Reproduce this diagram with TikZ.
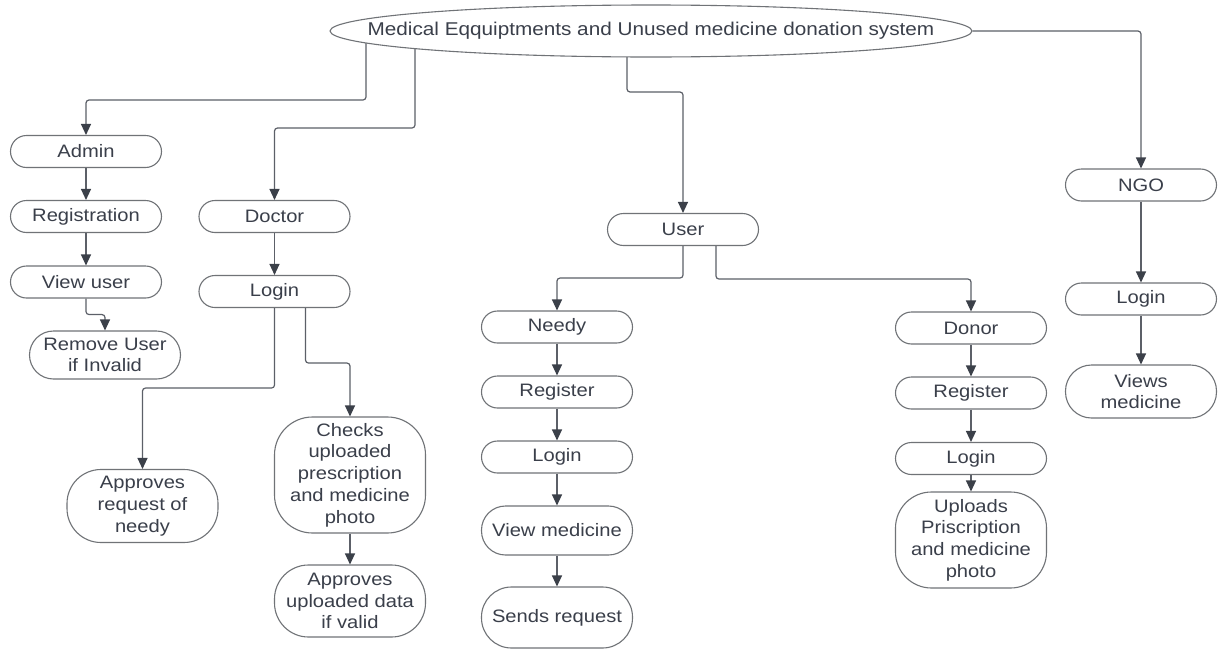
\documentclass[tikz,border=0pt]{standalone}
\usepackage{fontspec}
\setmainfont{Liberation Sans}[FakeStretch=1.12]
\usetikzlibrary{shapes.geometric,arrows.meta,backgrounds}
\definecolor{txtc}{HTML}{3A3F4A}
\definecolor{bordc}{HTML}{707377}
\definecolor{linec}{HTML}{5C6068}
\definecolor{tipc}{HTML}{3B4049}
\newcommand{\nodefont}{\fontsize{18}{21.7}\selectfont}
\begin{document}
\begin{tikzpicture}[x=1pt,y=-1pt,
  box/.style={draw=bordc, line width=1.1pt, fill=white, text=txtc,
    minimum width=151pt, minimum height=32pt, rounded corners=16pt,
    align=center, inner sep=2pt, font=\nodefont},
  conn/.style={draw=linec, line width=1.2pt, rounded corners=3pt,
    -{Triangle[width=10pt,length=11pt,fill=tipc,color=tipc]}}]
\begin{scope}[on background layer]
\fill[white] (0,0) rectangle (1219,651);
\end{scope}
\useasboundingbox (0,0) rectangle (1219,651);

% root
\node[ellipse, draw=bordc, line width=1.1pt, fill=white, text=txtc,
  minimum width=642pt, minimum height=52pt, inner sep=0pt,
  font=\fontsize{18.5}{22}\selectfont] (root) at (651,31)
  {\makebox[0pt]{Medical Eqquiptments and Unused medicine donation system}};

% admin column
\node[box] (admin) at (86,151.5) {Admin};
\node[box] (reg) at (86,216.5) {Registration};
\node[box] (viewu) at (86,282) {View user};
\node[box, minimum height=48pt, rounded corners=24pt] (remove) at (105,355) {Remove User\\if Invalid};

% doctor column
\node[box] (doctor) at (274.5,216.5) {Doctor};
\node[box] (dlogin) at (274.5,291.5) {Login};
\node[box, minimum height=73pt, rounded corners=34pt] (appreq) at (142.5,506) {Approves\\request of\\needy};
\node[box, minimum height=116pt, rounded corners=38pt] (checks) at (350,475) {Checks\\uploaded\\prescription\\and medicine\\photo};
\node[box, minimum height=72pt, rounded corners=34pt] (appdata) at (350,601) {Approves\\uploaded data\\if valid};

% user column
\node[box] (user) at (683,229.5) {User};
\node[box] (needy) at (557,327) {Needy};
\node[box] (nreg) at (557,392) {Register};
\node[box] (nlogin) at (557,457) {Login};
\node[box, minimum height=49pt, rounded corners=24pt] (nview) at (557,530.5) {View medicine};
\node[box, minimum height=61pt, rounded corners=30pt] (nsend) at (557,617.5) {Sends request};

\node[box] (donor) at (971,328) {Donor};
\node[box] (dreg) at (971,393) {Register};
\node[box] (dlog2) at (971,458.5) {Login};
\node[box, minimum height=96pt, rounded corners=36pt] (upl) at (971,540) {Uploads\\Priscription\\and medicine\\photo};

% ngo column
\node[box] (ngo) at (1141,185) {NGO};
\node[box] (glogin) at (1141,299) {Login};
\node[box, minimum height=53pt, rounded corners=26pt] (gview) at (1141,391.5) {Views\\medicine};

\coordinate (r1) at (366,31);
\coordinate (r2) at (415,31);
\coordinate (r3) at (627,31);

\begin{scope}[on background layer]
\draw[conn] (r1) -- ++(0,69) -| (admin.north);
\draw[conn] (r2) -- ++(0,97) -| (doctor.north);
\draw[conn] (r3) -- ++(0,61) -| (user.north);
\end{scope}
\draw[conn] (root.east) -| (ngo.north);

\draw[conn] (admin) -- (reg);
\draw[conn] (reg) -- (viewu);
\draw[conn] (viewu.south) -- ++(0,16) -| (remove.north);

\draw[conn] (doctor) -- (dlogin);
\draw[conn] (dlogin.south) -- ++(0,80) -| (appreq.north);
\draw[conn] ([xshift=31pt]dlogin.south) -- ++(0,55) -| (checks.north);
\draw[conn] (checks) -- (appdata);

\draw[conn] (user.south) -- ++(0,32) -| (needy.north);
\draw[conn] ([xshift=33pt]user.south) -- ++(0,33) -| (donor.north);
\draw[conn] (needy) -- (nreg);
\draw[conn] (nreg) -- (nlogin);
\draw[conn] (nlogin) -- (nview);
\draw[conn] (nview) -- (nsend);

\draw[conn] (donor) -- (dreg);
\draw[conn] (dreg) -- (dlog2);
\draw[conn] (dlog2) -- (upl);

\draw[conn] (ngo) -- (glogin);
\draw[conn] (glogin) -- (gview);
\end{tikzpicture}
\end{document}
